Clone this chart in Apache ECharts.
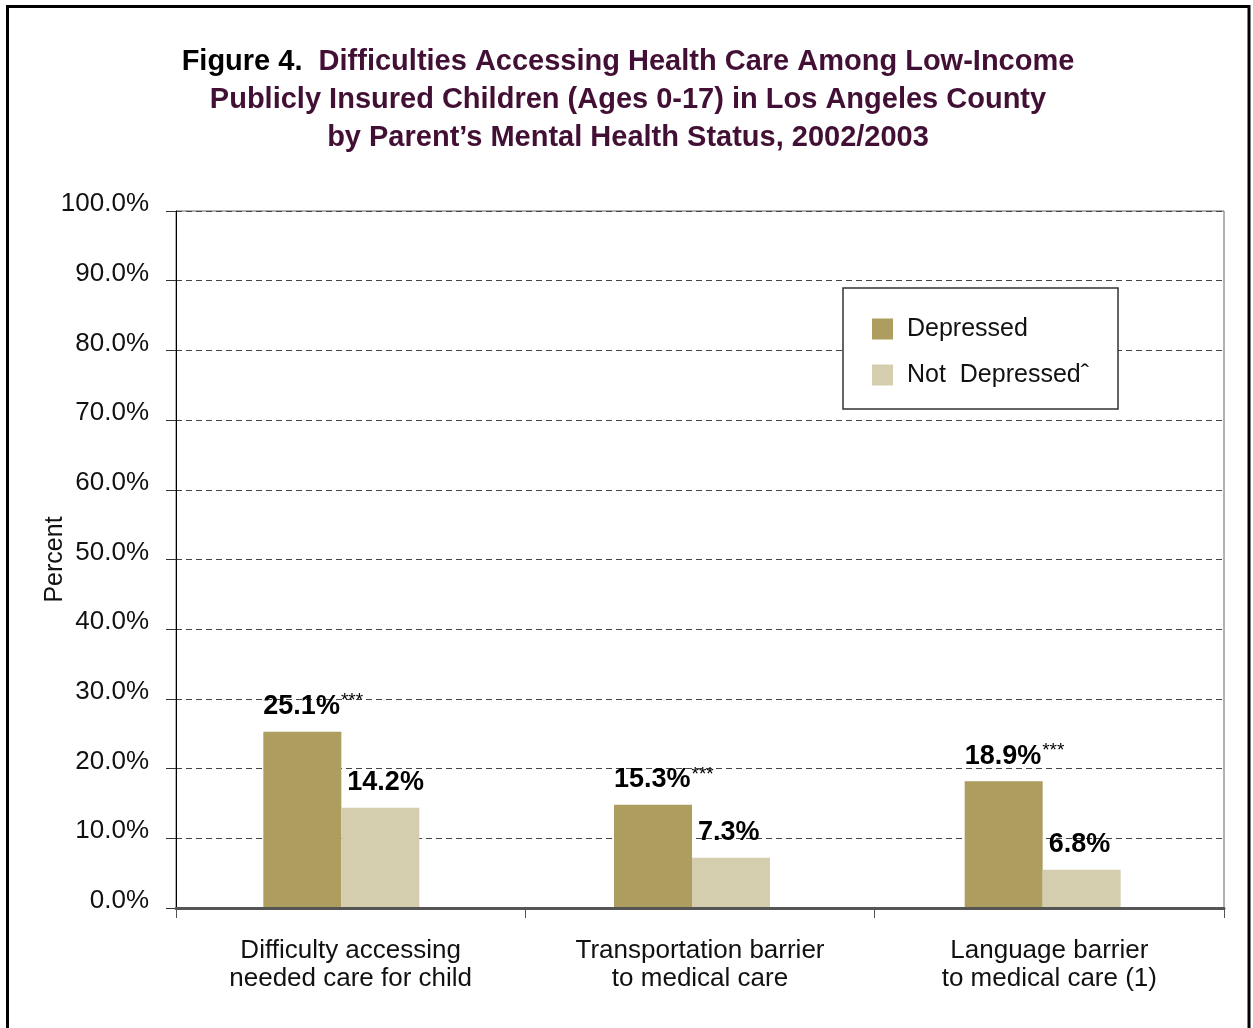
<!DOCTYPE html>
<html>
<head>
<meta charset="utf-8">
<script src="https://cdn.jsdelivr.net/npm/echarts@6/dist/echarts.min.js"></script>
<style>
html,body{margin:0;padding:0;background:#fff;}
#chart{width:1253px;height:1028px;}
</style>
</head>
<body>
<div id="chart"></div>
<script>
// ---- data ----
var categories = ['Difficulty accessing\nneeded care for child', 'Transportation barrier\nto medical care', 'Language barrier\nto medical care (1)'];
var seriesNames = ['Depressed', 'Not  Depressed\u02C6'];
var depressedValues = [25.3, 14.8, 18.2];
var notDepressedValues = [14.4, 7.2, 5.5];
var depressedLabels = ['25.1%', '15.3%', '18.9%'];
var depressedMarks = ['***', '***', '***'];
var notDepressedLabels = ['14.2%', '7.3%', '6.8%'];

var FONT = '"Liberation Sans", Arial, sans-serif';
var chart = echarts.init(document.getElementById('chart'));

var option = {
  backgroundColor: '#fff',
  animation: false,
  title: {
    left: 628,
    top: 43,
    padding: 0,
    textAlign: 'center',
    text: '{k|Figure 4.}{p|  Difficulties Accessing Health Care Among Low-Income}\n{p|Publicly Insured Children (Ages 0-17) in Los Angeles County}\n{p|by Parent\u2019s Mental Health Status, 2002/2003}',
    textStyle: {
      fontFamily: FONT,
      fontWeight: 'bold',
      fontSize: 29,
      lineHeight: 38,
      align: 'center',
      rich: {
        k: {color: '#000', fontFamily: FONT, fontWeight: 'bold', fontSize: 29, lineHeight: 38},
        p: {color: '#431035', fontFamily: FONT, fontWeight: 'bold', fontSize: 29, lineHeight: 38}
      }
    }
  },
  legend: {
    orient: 'vertical',
    left: 843,
    top: 288,
    padding: [28, 29, 21, 29],
    itemGap: 20,
    itemWidth: 21,
    itemHeight: 21,
    icon: 'rect',
    backgroundColor: '#fff',
    borderColor: '#333',
    borderWidth: 1.5,
    textStyle: {fontFamily: FONT, fontSize: 25, color: '#111', lineHeight: 26, padding: [0, 0, 0, 9]},
    data: seriesNames
  },
  grid: [
    {left: 176, right: 29, top: 211, bottom: 120, show: true, borderColor: '#666', borderWidth: 1, backgroundColor: 'transparent'},
    {left: 166, right: 35, top: 211, bottom: 120}
  ],
  xAxis: [
    {
      type: 'category', gridIndex: 0, data: categories, z: 3,
      axisLine: {show: true, lineStyle: {color: '#555', width: 3}},
      axisTick: {show: true, length: 10, lineStyle: {color: '#555', width: 1}},
      axisLabel: {fontFamily: FONT, fontSize: 26, color: '#111', lineHeight: 28, margin: 29, interval: 0}
    },
    {
      type: 'category', gridIndex: 1, data: categories, show: false
    }
  ],
  yAxis: [
    {
      type: 'value', gridIndex: 0, min: 0, max: 100, interval: 10,
      name: 'Percent', nameLocation: 'middle', nameGap: 108, nameRotate: 90,
      nameMoveOverlap: false,
      nameTextStyle: {fontFamily: FONT, fontSize: 25, color: '#111'},
      axisLine: {show: true, lineStyle: {color: '#000', width: 1}},
      axisTick: {show: true, length: 10, lineStyle: {color: '#333', width: 1}},
      axisLabel: {
        fontFamily: FONT, fontSize: 26, color: '#111', margin: 27,
        verticalAlign: 'bottom', lineHeight: 14,
        formatter: function (v) { return v.toFixed(1) + '%'; }
      },
      splitLine: {show: true, lineStyle: {color: '#444', type: [6, 4], width: 1}}
    },
    {type: 'value', gridIndex: 1, min: 0, max: 100, interval: 10, show: false, splitLine: {show: false}}
  ],
  series: [
    {
      name: seriesNames[0], type: 'bar', xAxisIndex: 1, yAxisIndex: 1,
      barWidth: 78, barGap: '0%',
      itemStyle: {color: '#AD9E5F'},
      data: depressedValues,
      label: {
        show: true, position: [0, -25], align: 'left', verticalAlign: 'middle',
        formatter: function (p) { return '{v|' + depressedLabels[p.dataIndex] + '}{s|' + depressedMarks[p.dataIndex] + '}'; },
        rich: {
          v: {fontFamily: FONT, fontWeight: 'bold', fontSize: 27, color: '#000', lineHeight: 30},
          s: {fontFamily: FONT, fontSize: 19, color: '#000', lineHeight: 30, verticalAlign: 'top', padding: [0, 0, 0, 1]}
        }
      }
    },
    {
      name: seriesNames[1], type: 'bar', xAxisIndex: 1, yAxisIndex: 1,
      barWidth: 78, barGap: '0%',
      itemStyle: {color: '#D4CEAE'},
      data: notDepressedValues,
      label: {
        show: true, position: [6, -25], align: 'left', verticalAlign: 'middle',
        formatter: function (p) { return notDepressedLabels[p.dataIndex]; },
        fontFamily: FONT, fontWeight: 'bold', fontSize: 27, color: '#000'
      }
    }
  ],
  graphic: [
    {type: 'rect', z: 10, silent: true, shape: {x: 7.5, y: 6.5, width: 1241.5, height: 1100}, style: {fill: 'none', stroke: '#000', lineWidth: 3}}
  ]
};
chart.setOption(option);
</script>
</body>
</html>
